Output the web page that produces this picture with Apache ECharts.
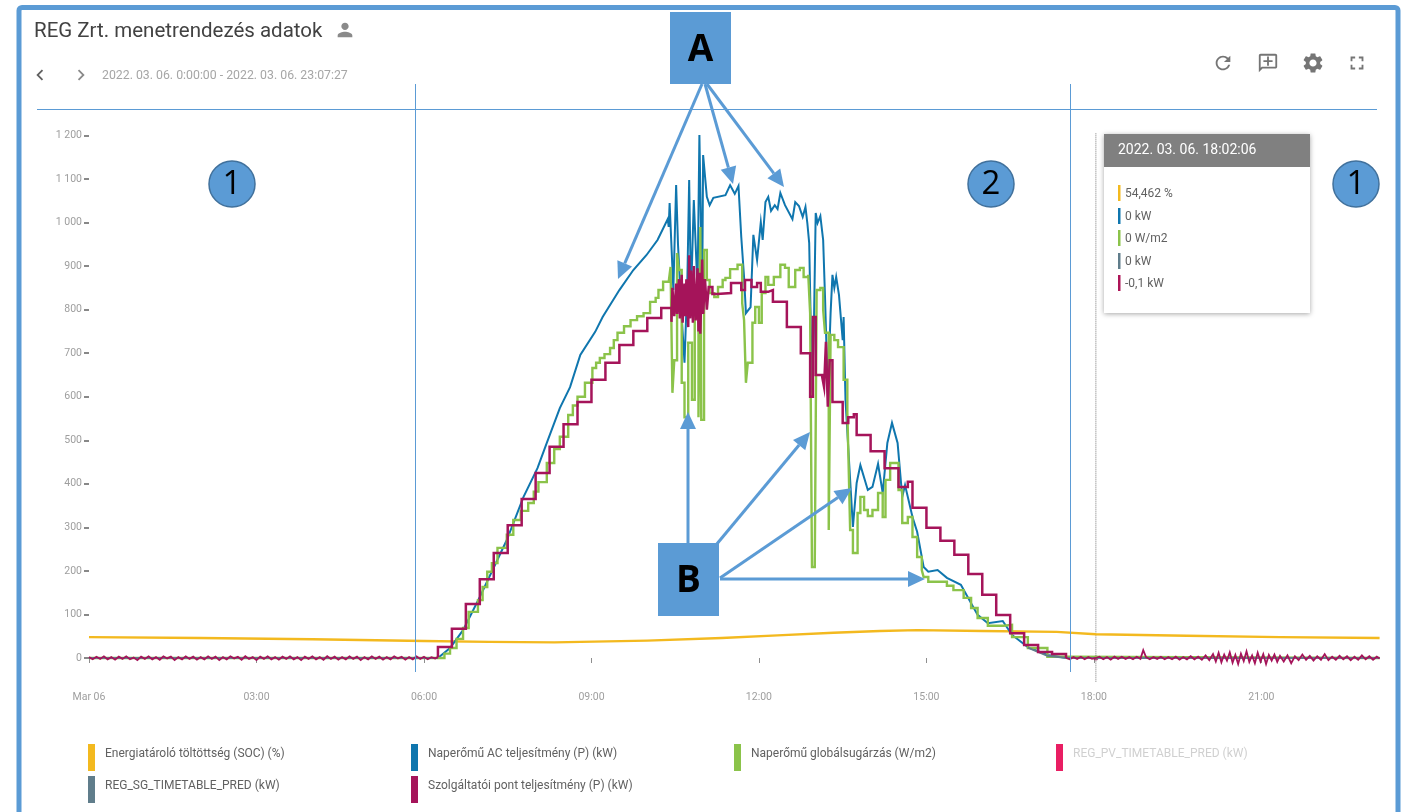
<!DOCTYPE html>
<html>
<head>
<meta charset="utf-8">
<title>REG Zrt. menetrendezés adatok</title>
<style>
html, body { margin: 0; padding: 0; background: #fff; }
#main { width: 1406px; height: 812px; }
</style>
<script src="https://cdn.jsdelivr.net/npm/echarts@6/dist/echarts.min.js"></script>
</head>
<body>
<div id="main"></div>
<script>
'use strict';
// minutes since midnight -> value
var timeTicks = [0, 180, 360, 540, 720, 900, 1080, 1260];
var timeLabels = ['Mar 06', '03:00', '06:00', '09:00', '12:00', '15:00', '18:00', '21:00'];
var valueTicks = [0, 100, 200, 300, 400, 500, 600, 700, 800, 900, 1000, 1100, 1200];

var socName = 'Energiatároló töltöttség (SOC) (%)';
var acName = 'Naperőmű AC teljesítmény (P) (kW)';
var irrName = 'Naperőmű globálsugárzás (W/m2)';
var pvPredName = 'REG_PV_TIMETABLE_PRED (kW)';
var sgPredName = 'REG_SG_TIMETABLE_PRED (kW)';
var pointName = 'Szolgáltatói pont teljesítmény (P) (kW)';

var socValues = [[0,48],[120,46],[240,43],[360,39],[430,37],[500,36],[600,40],[680,46],[740,52],[800,58],[850,62],[890,64],[960,62],[1040,60],[1082,54.5],[1180,51],[1280,48],[1387,46]];

var acValues = [[0,0],[375,0],[388,23],[402,64],[420,140],[449,271],[467,370],[482,436],[492,494],[506,574],[517,622],[528,696],[544,749],[552,783],[570,845],[585,891],[599,925],[611,960],[622,1008],[623,990],[624,1045],[628,845],[631,1086],[633,950],[637,783],[640,678],[643,861],[645,1098],[647,829],[650,1052],[654,845],[656,1201],[659,829],[660,1155],[664,1059],[667,1040],[671,1057],[684,1063],[689,1086],[694,1066],[698,1084],[701,967],[704,875],[706,792],[711,806],[714,972],[718,914],[722,1001],[724,960],[727,1047],[730,1059],[733,1027],[737,1040],[740,1031],[743,1068],[748,1040],[756,1008],[759,1047],[763,1038],[767,1013],[770,1036],[772,999],[774,953],[776,730],[777,609],[779,753],[781,1022],[783,999],[786,1015],[789,960],[791,829],[794,609],[797,792],[799,880],[801,850],[803,875],[806,834],[810,730],[811,783],[813,593],[818,409],[821,301],[825,402],[829,443],[837,386],[842,393],[848,446],[853,379],[858,494],[863,540],[869,494],[874,370],[877,397],[885,324],[890,290],[897,209],[902,198],[912,202],[922,184],[937,168],[955,99],[966,80],[982,85],[992,53],[1009,25],[1030,7],[1051,0],[1387,0]];

var irrValues = [[0,0],[376,0],[382,10],[388,23],[395,44],[402,69],[408,106],[418,133],[423,163],[428,198],[433,218],[439,253],[449,283],[456,317],[464,338],[472,356],[478,382],[483,404],[492,448],[500,480],[506,508],[515,558],[520,580],[525,600],[533,632],[541,666],[545,678],[549,689],[554,698],[560,712],[564,730],[568,747],[575,762],[582,776],[589,785],[596,792],[603,818],[609,827],[612,845],[617,864],[623,868],[625,898],[627,609],[629,684],[632,930],[634,891],[637,632],[640,553],[644,724],[648,593],[651,792],[655,553],[657,990],[658,547],[661,937],[664,868],[667,838],[672,829],[676,852],[681,868],[684,873],[689,893],[697,903],[702,815],[704,776],[706,632],[708,678],[713,770],[716,806],[720,770],[723,838],[727,875],[730,857],[736,875],[743,903],[748,896],[752,852],[759,891],[764,896],[768,875],[773,880],[775,792],[777,209],[780,218],[782,845],[786,850],[789,800],[791,747],[795,294],[797,742],[801,730],[805,714],[811,639],[815,563],[816,478],[818,294],[821,241],[826,333],[829,370],[833,340],[837,326],[842,340],[848,379],[853,324],[856,409],[861,448],[866,448],[870,386],[874,310],[880,324],[885,278],[890,232],[895,202],[897,186],[902,175],[915,175],[922,166],[929,156],[940,138],[948,115],[955,92],[966,74],[983,76],[992,48],[1009,23],[1030,3],[1050,0],[1387,0]];

var pvPredValues = [];
// only visible at night and at the end of the decline, the day part is covered
var sgPredValues = [[0,0],[375,0],[376,null],[1009,24],[1030,5],[1051,0],[1387,0]];

// service point power: jittery night, 15 minute plateaus by day, jittery evening
var pointNight = [[0,2],[4,-3],[8,3],[12,-2],[16,4],[20,-3],[24,2],[28,-4],[32,3],[36,-2],[40,4],[44,-3],[48,1],[52,-5],[56,3],[60,-2],[64,4],[68,-3],[72,2],[76,-4],[80,4],[84,-1],[88,3],[92,-5],[96,2],[100,-3],[104,4],[108,-2],[112,3],[116,-4],[120,2],[124,-3],[128,4],[132,-2],[136,3],[140,-5],[144,2],[148,-3],[152,4],[156,-1],[160,3],[164,-4],[168,4],[172,-2],[176,2],[180,-5],[184,3],[188,-2],[192,4],[196,-3],[200,2],[204,-4],[208,3],[212,-2],[216,4],[220,-3],[224,2],[228,-5],[232,3],[236,-2],[240,4],[244,-3],[248,2],[252,-4],[256,4],[260,-2],[264,3],[268,-4],[272,2],[276,-3],[280,4],[284,-2],[288,3],[292,-5],[296,2],[300,-3],[304,4],[308,-2],[312,3],[316,-4],[320,2],[324,-3],[328,4],[332,-1],[336,3],[340,-4],[344,2],[348,-3],[352,4],[356,-2],[360,3],[364,-3],[368,2],[372,-1],[375,2]];
var pointDay = [[375,2],[375,25],[390,67],[405,124],[420,181],[435,241],[450,305],[465,365],[480,425],[495,485],[510,537],[525,588],[540,639],[555,678],[570,719],[585,751],[600,781],[615,804],
[626,772],[627,850],[629,785],[631,860],[632,790],[634,870],[635,780],[637,880],[638,770],[640,860],[641,785],[642,870],[644,760],[645,925],[646,780],[647,890],[649,770],[650,900],[652,775],[654,895],[655,750],[656,885],[657,745],[659,915],[660,790],[662,870],[664,800],[666,852],[670,836],[675,838],[690,861],[701,845],[705,868],[712,852],[718,861],[722,841],[730,845],[735,818],[750,760],[765,700],[775,600],[778,783],[781,650],[788,645],[790,622],[792,726],[794,577],[796,684],[799,588],[810,540],[816,553],[822,560],[825,512],[840,475],[855,436],[870,393],[880,405],[885,345],[900,299],[915,269],[930,237],[945,193],[960,145],[975,99],[990,57],[1005,30],[1020,14],[1035,9],[1050,0]];
var pointEvening = [[1050,0],[1054,-3],[1058,2],[1062,-2],[1066,3],[1070,-3],[1074,2],[1078,-2],[1082,0],[1086,3],[1090,-3],[1094,2],[1098,-4],[1102,3],[1106,-2],[1110,3],[1114,-2],[1118,2],[1122,-3],[1126,3],[1130,-2],[1133,18],[1136,2],[1140,-3],[1144,2],[1148,-2],[1152,3],[1156,-3],[1160,2],[1164,-3],[1168,3],[1172,-4],[1176,2],[1180,-3],[1184,4],[1188,-3],[1192,3],[1196,-4],[1200,6],[1204,-5],[1208,9],[1211,-8],[1214,12],[1217,-10],[1220,8],[1223,-6],[1226,13],[1229,-11],[1232,7],[1235,-14],[1238,10],[1241,-7],[1244,15],[1247,-9],[1250,6],[1253,-12],[1256,12],[1259,-8],[1262,9],[1265,-14],[1268,7],[1271,-6],[1274,8],[1277,-9],[1280,5],[1284,-8],[1288,6],[1292,-12],[1296,4],[1300,-5],[1304,8],[1308,-4],[1312,5],[1316,-6],[1320,4],[1324,-4],[1328,9],[1332,-5],[1336,3],[1340,-4],[1344,5],[1348,-3],[1352,4],[1356,-5],[1360,3],[1364,-4],[1368,6],[1372,-3],[1376,4],[1380,-4],[1384,3],[1387,-1]];

var cursorTime = 1082.1;
var cursorLine = [[cursorTime, 1205], [cursorTime, -55]];
var cursorDot = [[cursorTime, 0]];
var tooltipTitle = '2022. 03. 06. 18:02:06';
var tooltipRows = ['54,462 %', '0 kW', '0 W/m2', '0 kW', '-0,1 kW'];
var tooltipColors = ['#F3B91F', '#0F76AE', '#8BC34A', '#607D8B', '#AD1457'];

var frameBlue = '#5B9BD5';
var font = 'Roboto';
var iconGray = '#757575';

var iconPaths = {
    person: 'M12 12c2.21 0 4-1.79 4-4s-1.79-4-4-4-4 1.79-4 4 1.79 4 4 4zm0 2c-2.67 0-8 1.34-8 4v2h16v-2c0-2.66-5.33-4-8-4z',
    left: 'M15.41 7.41L14 6l-6 6 6 6 1.41-1.41L10.83 12z',
    right: 'M10 6L8.59 7.41 13.17 12l-4.58 4.59L10 18l6-6z',
    refresh: 'M17.65 6.35C16.2 4.9 14.21 4 12 4c-4.42 0-7.99 3.58-7.99 8s3.57 8 7.99 8c3.73 0 6.84-2.55 7.73-6h-2.08c-.82 2.33-3.04 4-5.65 4-3.31 0-6-2.69-6-6s2.69-6 6-6c1.66 0 3.14.69 4.22 1.78L13 11h7V4l-2.35 2.35z',
    comment: 'M20 2H4c-1.1 0-2 .9-2 2v18l4-4h14c1.1 0 2-.9 2-2V4c0-1.1-.9-2-2-2zm0 14H5.17L4 17.17V4h16v12zM13 5h-2v4H7v2h4v4h2v-4h4V9h-4V5z',
    gear: 'M19.14,12.94c0.04-0.3,0.06-0.61,0.06-0.94c0-0.32-0.02-0.64-0.07-0.94l2.03-1.58c0.18-0.14,0.23-0.41,0.12-0.61 l-1.92-3.32c-0.12-0.22-0.37-0.29-0.59-0.22l-2.39,0.96c-0.5-0.38-1.03-0.7-1.62-0.94L14.4,2.81c-0.04-0.24-0.24-0.41-0.48-0.41 h-3.84c-0.24,0-0.43,0.17-0.47,0.41L9.25,5.35C8.66,5.59,8.12,5.92,7.63,6.29L5.24,5.33c-0.22-0.08-0.47,0-0.59,0.22L2.74,8.87 C2.62,9.08,2.66,9.34,2.86,9.48l2.03,1.58C4.84,11.36,4.8,11.69,4.8,12s0.02,0.64,0.07,0.94l-2.03,1.58 c-0.18,0.14-0.23,0.41-0.12,0.61l1.92,3.32c0.12,0.22,0.37,0.29,0.59,0.22l2.39-0.96c0.5,0.38,1.03,0.7,1.62,0.94l0.36,2.54 c0.05,0.24,0.24,0.41,0.48,0.41h3.84c0.24,0,0.44-0.17,0.47-0.41l0.36-2.54c0.59-0.24,1.13-0.56,1.62-0.94l2.39,0.96 c0.22,0.08,0.47,0,0.59-0.22l1.92-3.32c0.12-0.22,0.07-0.47-0.12-0.61L19.14,12.94z M12,15.6c-1.98,0-3.6-1.62-3.6-3.6 s1.62-3.6,3.6-3.6s3.6,1.62,3.6,3.6S13.98,15.6,12,15.6z',
    full: 'M7 14H5v5h5v-2H7v-3zm-2-4h2V7h3V5H5v5zm12 7h-3v2h5v-5h-2v3zM14 5v2h3v3h2V5h-5z'
};
// the graphic component has no plain path type, so each icon gets its own shape
Object.keys(iconPaths).forEach(function (name) {
    echarts.graphic.registerShape('icon_' + name, echarts.graphic.extendPath(iconPaths[name], {}));
});

function icon(name, cx, cy, size, color) {
    return {
        type: 'icon_' + name,
        x: cx - size / 2, y: cy - size / 2, scaleX: size / 24, scaleY: size / 24,
        style: { fill: color || iconGray }, z: 20
    };
}

function label(text, x, y, size, color) {
    return { type: 'text', z: 20, style: { text: text, x: x, y: y, fontSize: size, fontFamily: font, fill: color, verticalAlign: 'middle', align: 'left' } };
}

function thinLine(x1, y1, x2, y2) {
    return { type: 'line', shape: { x1: x1, y1: y1, x2: x2, y2: y2 }, style: { stroke: frameBlue, lineWidth: 1 }, z: 15 };
}

// annotation arrow: shaft + triangle head
function arrow(x1, y1, x2, y2) {
    var a = Math.atan2(y2 - y1, x2 - x1), len = 17, w = 8;
    var bx = x2 - len * Math.cos(a), by = y2 - len * Math.sin(a);
    var nx = -Math.sin(a) * w, ny = Math.cos(a) * w;
    return [
        { type: 'line', shape: { x1: x1, y1: y1, x2: bx, y2: by }, style: { stroke: frameBlue, lineWidth: 3 }, z: 30 },
        { type: 'polygon', shape: { points: [[x2, y2], [bx + nx, by + ny], [bx - nx, by - ny]] }, style: { fill: frameBlue }, z: 30 }
    ];
}

function letterBox(text, x, y, w, h) {
    return [
        { type: 'rect', shape: { x: x, y: y, width: w, height: h }, style: { fill: frameBlue }, z: 31 },
        { type: 'text', z: 32, style: { text: text, x: x + w / 2, y: y + h / 2 + 2, fontSize: 37, fontFamily: 'Open Sans', fontWeight: 'bold', fill: '#000', align: 'center', verticalAlign: 'middle' } }
    ];
}

function numberCircle(text, cx, cy) {
    return [
        { type: 'circle', shape: { cx: cx, cy: cy, r: 23 }, style: { fill: frameBlue, stroke: '#41719C', lineWidth: 1.5 }, z: 31 },
        { type: 'text', z: 32, style: { text: text, x: cx, y: cy + 1, fontSize: 33, fontFamily: 'Open Sans', fill: '#000', align: 'center', verticalAlign: 'middle' } }
    ];
}

var graphics = [
    { type: 'rect', shape: { x: 19, y: 7.5, width: 1379, height: 830, r: 3 }, style: { fill: 'none', stroke: frameBlue, lineWidth: 5 }, z: 10 },
    label('REG Zrt. menetrendezés adatok', 34, 32, 20.5, '#424242'),
    icon('person', 345, 30, 22, '#8A8A8A'),
    icon('left', 40, 75, 22, '#616161'),
    icon('right', 81, 75, 22, '#8A8A8A'),
    label('2022. 03. 06. 0:00:00 - 2022. 03. 06. 23:07:27', 102, 75.5, 12.3, '#A6A6A6'),
    icon('refresh', 1223, 63, 22),
    icon('comment', 1268, 63, 22),
    icon('gear', 1313, 63, 24),
    icon('full', 1357, 63, 22),
    thinLine(37, 109.5, 1377, 109.5),
    thinLine(415.5, 84, 415.5, 672),
    thinLine(1070.5, 84, 1070.5, 672),
    // tooltip card
    { type: 'rect', shape: { x: 1104, y: 134, width: 206, height: 179 }, style: { fill: '#fff', shadowBlur: 5, shadowColor: 'rgba(0,0,0,0.35)', shadowOffsetY: 1 }, z: 18 },
    { type: 'rect', shape: { x: 1104, y: 134, width: 206, height: 33 }, style: { fill: '#808080' }, z: 19 },
    label(tooltipTitle, 1118, 150.5, 14, '#fff')
];
var rowY = [193, 216, 238, 261, 283];
tooltipRows.forEach(function (t, i) {
    graphics.push({ type: 'rect', shape: { x: 1118, y: rowY[i] - 8, width: 2.5, height: 16 }, style: { fill: tooltipColors[i] }, z: 20 });
    graphics.push(label(t, 1125, rowY[i] + 1, 12, '#616161'));
});
graphics = graphics.concat(
    arrow(702, 84, 618, 279), arrow(705, 84, 733, 184), arrow(707, 84, 784, 187),
    arrow(688, 543, 688, 412), arrow(716, 545, 810, 432), arrow(720, 578, 852, 488), arrow(720, 579, 925, 579),
    letterBox('A', 670, 12, 61, 72), letterBox('B', 658, 543, 61, 73),
    numberCircle('1', 232, 184), numberCircle('2', 991, 184), numberCircle('1', 1356, 184)
);

function legendAt(name, x, y, dim) {
    var textColor = dim ? '#D0D0D0' : '#616161';
    return {
        data: [name], left: x, top: y, orient: 'horizontal', selectedMode: false,
        icon: 'rect', itemWidth: 7, itemHeight: 27, padding: 0, itemGap: 0,
        // empty second line lifts the name above the middle of the colour bar
        formatter: function (n) { return '{t|' + n + '}\n{s| }'; },
        textStyle: {
            fontFamily: font, fontSize: 12, color: textColor,
            rich: {
                t: { fontFamily: font, fontSize: 12, color: textColor, lineHeight: 14, padding: [0, 0, 0, 5] },
                s: { fontSize: 6, lineHeight: 8 }
            }
        }
    };
}

function lineSeries(name, data, color, width, step) {
    return {
        name: name, type: 'line', data: data, showSymbol: false, symbol: 'none', clip: false,
        step: step ? 'end' : false, animation: false, itemStyle: { color: color },
        lineStyle: { color: color, width: width, join: 'miter' }
    };
}

var cursorSeries = lineSeries('cursor', cursorLine, '#7A7A7A', 1, false);
cursorSeries.lineStyle.type = 'dotted';

var myChart = echarts.init(document.getElementById('main'), null, { renderer: 'canvas' });
myChart.setOption({
    backgroundColor: '#fff',
    animation: false,
    grid: { left: 89, top: 135.5, width: 1291, height: 522.5 },
    xAxis: {
        type: 'value', min: 0, max: 1387.45, offset: 24,
        splitLine: { show: false }, axisLine: { show: false },
        axisTick: { length: 5, lineStyle: { color: '#8E8E8E' }, customValues: timeTicks },
        axisLabel: {
            customValues: timeTicks, margin: 10, color: '#9E9E9E', fontFamily: font, fontSize: 10.5,
            formatter: function (v) { return timeLabels[timeTicks.indexOf(v)]; }
        }
    },
    yAxis: {
        type: 'value', min: 0, max: 1200, interval: 100,
        splitLine: { show: false }, axisLine: { show: false },
        axisTick: { length: 5, lineStyle: { color: '#616161', width: 1.5 } },
        axisLabel: {
            margin: 7, color: '#9E9E9E', fontFamily: font, fontSize: 10.5, padding: [2, 0, 0, 0],
            formatter: function (v) { return valueTicks.indexOf(v) >= 0 && v >= 1000 ? '1 ' + String(v).slice(1) : String(v); }
        }
    },
    legend: [
        legendAt(socName, 88, 744), legendAt(acName, 411, 744), legendAt(irrName, 734, 744), legendAt(pvPredName, 1056, 744, true),
        legendAt(sgPredName, 88, 776), legendAt(pointName, 411, 776)
    ],
    series: [
        cursorSeries,
        lineSeries(socName, socValues, '#F3B91F', 2.4, false),
        lineSeries(acName, acValues, '#0F76AE', 2, false),
        lineSeries(irrName, irrValues, '#8BC34A', 2.4, true),
        lineSeries(pvPredName, pvPredValues, '#E91E63', 2, false),
        lineSeries(sgPredName, sgPredValues, '#607D8B', 2, false),
        lineSeries(pointName, pointNight, '#A5145A', 1.8, false),
        lineSeries(pointName, pointDay, '#A5145A', 2.5, true),
        lineSeries(pointName, pointEvening, '#A5145A', 1.8, false),
        {
            name: 'cursorDot', type: 'scatter', data: cursorDot, symbolSize: 5, animation: false,
            itemStyle: { color: '#A5145A' }
        }
    ],
    graphic: { elements: graphics }
});
</script>
</body>
</html>
